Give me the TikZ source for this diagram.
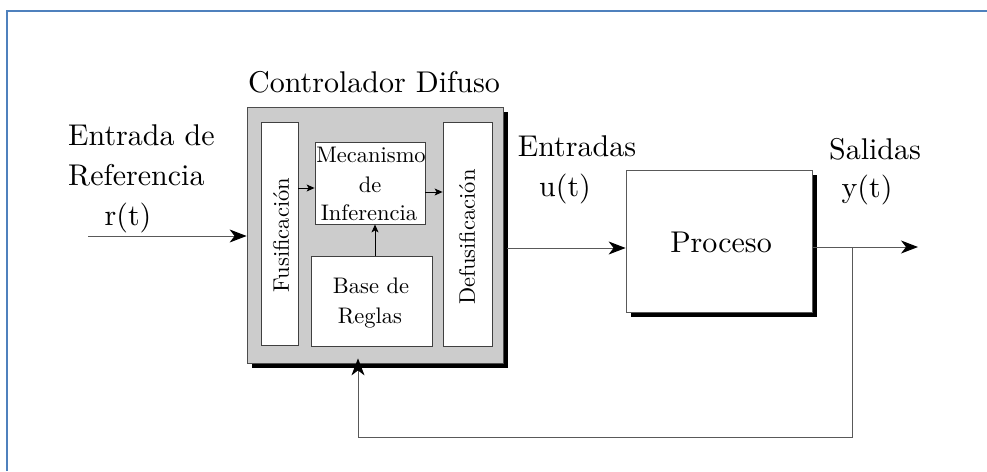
\documentclass[tikz,border=0pt]{standalone}
\usepackage{graphicx}
\usetikzlibrary{arrows.meta,shadows}
\definecolor{frameblue}{RGB}{79,129,189}
\definecolor{ctrlgray}{RGB}{204,204,204}
\newcommand{\bigtxt}[1]{\scalebox{3.0}{#1}}
\newcommand{\smalltxt}[1]{\scalebox{2.25}{#1}}
\begin{document}
\begin{tikzpicture}[x=1pt,y=-1pt,
  big/.style={font=\fontsize{10}{12}\selectfont, inner sep=0pt},
  small/.style={font=\fontsize{10}{12}\selectfont, inner sep=0pt},
  blockshadow/.style={drop shadow={shadow xshift=4.5pt, shadow yshift=-4.5pt, fill=black, opacity=1}},
  ctrlbox/.style={draw=black!70, line width=0.8pt, fill=ctrlgray, inner sep=0pt, blockshadow},
  innerbox/.style={draw=black!75, line width=0.8pt, fill=white, inner sep=0pt},
  procbox/.style={draw=black!65, line width=0.8pt, fill=white, inner sep=0pt, blockshadow},
  wire/.style={draw=black!65, line width=1pt},
  bigarrow/.style={wire, -{Stealth[length=17pt, width=13pt, inset=5pt, black]}},
  smallarrow/.style={draw=black, line width=0.9pt, -{Stealth[length=8pt, width=7pt, inset=2pt]}},
  frame/.style={draw=frameblue, line width=2pt}
]
\useasboundingbox (0,0) rectangle (987,471);
\fill[white] (0,0) rectangle (987,471);
\draw[frame] (6.5,471) -- (6.5,10.5) -- (987,10.5);

% controller
\node[ctrlbox, minimum width=256pt, minimum height=256pt] (ctrl) at (375,235) {};
\node[innerbox, minimum width=37pt, minimum height=223pt] (fus) at (279.5,233.5) {};
\node[innerbox, minimum width=110pt, minimum height=82pt] (mec) at (370,183) {};
\node[innerbox, minimum width=121pt, minimum height=90pt] (base) at (371.5,301) {};
\node[innerbox, minimum width=49pt, minimum height=224pt] (defus) at (467.5,234) {};

\node[small, rotate=90] (fustxt) at (281,235) {\smalltxt{Fusificación}};
\node[small, rotate=90] (defustxt) at (467,237) {\smalltxt{Defusificación}};
\node[small, anchor=base] (m1) at (371,162) {\smalltxt{Mecanismo}};
\node[small, anchor=base] (m2) at (370,192) {\smalltxt{de}};
\node[small, anchor=base] (m3) at (369,220) {\smalltxt{Inferencia}};
\node[small, anchor=base] (b1) at (371,293) {\smalltxt{Base de}};
\node[small, anchor=base] (b2) at (370,323) {\smalltxt{Reglas}};

\node[big, anchor=base] (title) at (374,92) {\bigtxt{Controlador Difuso}};

% process
\node[procbox, minimum width=186pt, minimum height=142pt] (proc) at (719,241) {};
\node[big, anchor=base] (proctxt) at (721,252) {\bigtxt{Proceso}};

% labels
\node[big, anchor=base west] (l1) at (68,145) {\bigtxt{Entrada de}};
\node[big, anchor=base west] (l2) at (68,185) {\bigtxt{Referencia}};
\node[big, anchor=base] (l3) at (128,225) {\bigtxt{r(t)}};
\node[big, anchor=base] (e1) at (577,156) {\bigtxt{Entradas}};
\node[big, anchor=base] (e2) at (565,196) {\bigtxt{u(t)}};
\node[big, anchor=base] (s1) at (875,159) {\bigtxt{Salidas}};
\node[big, anchor=base] (s2) at (867,197) {\bigtxt{y(t)}};

% coordinates
\coordinate (rin) at (88,236);
\coordinate (uout) at (507,248);
\coordinate (yout) at (918,247);
\coordinate (fb) at (852,247);
\coordinate (fbc) at (358,437);
\coordinate (a1) at (298,188);
\coordinate (a2) at (425,192);
\coordinate (a3) at (375,256);

% connectors
\draw[bigarrow] (rin) -- (rin -| ctrl.west);
\draw[bigarrow] (uout) -- (uout -| proc.west);
\draw[bigarrow] (proc.east |- yout) -- (yout);
\draw[bigarrow, shorten >=-5pt] (fb) |- (fbc) -- (fbc |- ctrl.south);

\draw[smallarrow] (a1) -- (a1 -| mec.west);
\draw[smallarrow] (a2) -- (a2 -| defus.west);
\draw[smallarrow] (a3) -- (a3 |- mec.south);
\end{tikzpicture}
\end{document}
